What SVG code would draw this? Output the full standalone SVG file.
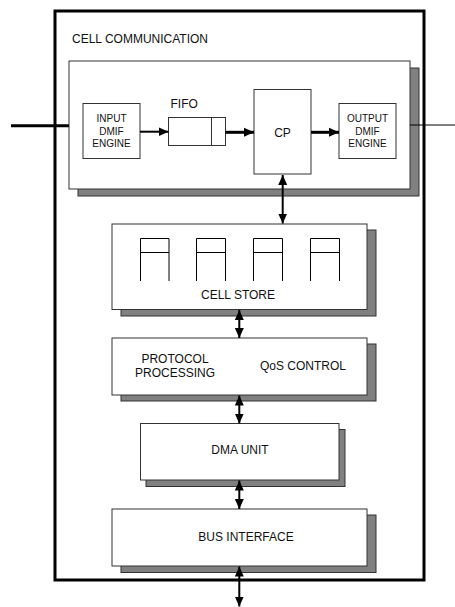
<svg xmlns="http://www.w3.org/2000/svg" width="455" height="607" viewBox="0 0 455 607">
<style>
.box{fill:#fff;stroke:#333;stroke-width:1}
.sh{fill:#808080;stroke:#333;stroke-width:1}
.t{font-family:"Liberation Sans",Arial,sans-serif;font-size:12px;fill:#111}
.s{font-family:"Liberation Sans",Arial,sans-serif;font-size:10px;fill:#111}
.ln{stroke:#000;fill:none}
</style>
<defs>
<marker id="ah" markerUnits="userSpaceOnUse" markerWidth="10" markerHeight="10" viewBox="0 0 10 10" refX="10" refY="5" orient="auto-start-reverse">
<path d="M0,0.5 L10,5 L0,9.5 Z" fill="#000"/>
</marker>
</defs>
<g id="outer">
<rect x="55" y="11" width="369" height="569" fill="#fff" stroke="#000" stroke-width="3"/>
</g>
<g id="cell-communication">
<rect class="sh" x="78" y="68" width="341" height="128"/>
<rect class="box" x="69" y="61" width="341" height="128"/>
<text class="t" x="72" y="43">CELL COMMUNICATION</text>
</g>
<g id="input-dmif">
<rect class="box" x="83" y="103.5" width="57" height="55"/>
<text class="s" x="111.5" y="122" text-anchor="middle">INPUT</text>
<text class="s" x="111.5" y="134.5" text-anchor="middle">DMIF</text>
<text class="s" x="111.5" y="147" text-anchor="middle">ENGINE</text>
</g>
<g id="fifo">
<rect class="box" x="168.5" y="117.5" width="57" height="28"/>
<line x1="211.5" y1="117.5" x2="211.5" y2="145.5" stroke="#333"/>
<text class="t" x="170.5" y="107.5">FIFO</text>
</g>
<g id="cp">
<rect class="box" x="254" y="89.5" width="57" height="84.5"/>
<text class="t" x="282.5" y="136.5" text-anchor="middle">CP</text>
</g>
<g id="output-dmif">
<rect class="box" x="339" y="103.5" width="57" height="55"/>
<text class="s" x="367.5" y="122" text-anchor="middle">OUTPUT</text>
<text class="s" x="367.5" y="134.5" text-anchor="middle">DMIF</text>
<text class="s" x="367.5" y="147" text-anchor="middle">ENGINE</text>
</g>
<g id="cell-store">
<rect class="sh" x="121" y="230" width="255" height="86"/>
<rect class="box" x="112" y="224" width="255" height="85.5"/>
<path class="ln" stroke="#333" d="M140.5,281 V238.5 H169 V281 M140.5,252.5 H169 M196.5,281 V238.5 H225.5 V281 M196.5,252.5 H225.5 M253.5,281 V238.5 H282.5 V281 M253.5,252.5 H282.5 M310.5,281 V238.5 H339.5 V281 M310.5,252.5 H339.5"/>
<text class="t" x="238" y="299" text-anchor="middle">CELL STORE</text>
</g>
<g id="protocol">
<rect class="sh" x="121" y="344" width="255" height="57"/>
<rect class="box" x="112" y="338" width="255" height="57"/>
<text class="t" x="175" y="362.5" text-anchor="middle">PROTOCOL</text>
<text class="t" x="175" y="376.5" text-anchor="middle">PROCESSING</text>
<text class="t" x="303" y="370" text-anchor="middle">QoS CONTROL</text>
</g>
<g id="dma">
<rect class="sh" x="146" y="429.5" width="199" height="57"/>
<rect class="box" x="140.5" y="423.5" width="198.5" height="56.5"/>
<text class="t" x="240" y="454" text-anchor="middle">DMA UNIT</text>
</g>
<g id="bus">
<rect class="sh" x="121" y="515" width="255" height="57.5"/>
<rect class="box" x="112" y="509" width="255" height="57"/>
<text class="t" x="246" y="541" text-anchor="middle">BUS INTERFACE</text>
</g>
<g id="connectors">
<line class="ln" x1="11" y1="125.7" x2="69" y2="125.7" stroke-width="3"/>
<line class="ln" x1="410" y1="125" x2="455" y2="125" stroke-width="1"/>
<line class="ln" x1="140" y1="131.7" x2="168.5" y2="131.7" stroke-width="2" marker-end="url(#ah)"/>
<line class="ln" x1="225.5" y1="132.3" x2="254" y2="132.3" stroke-width="3" marker-end="url(#ah)"/>
<line class="ln" x1="311" y1="132.3" x2="339" y2="132.3" stroke-width="3" marker-end="url(#ah)"/>
<line class="ln" x1="282.7" y1="175" x2="282.7" y2="223.5" stroke-width="2" marker-start="url(#ah)" marker-end="url(#ah)"/>
<line class="ln" x1="239.3" y1="310" x2="239.3" y2="338" stroke-width="2" marker-start="url(#ah)" marker-end="url(#ah)"/>
<line class="ln" x1="239.3" y1="395.5" x2="239.3" y2="423.5" stroke-width="2" marker-start="url(#ah)" marker-end="url(#ah)"/>
<line class="ln" x1="239.3" y1="480.5" x2="239.3" y2="509" stroke-width="2" marker-start="url(#ah)" marker-end="url(#ah)"/>
<line class="ln" x1="239.3" y1="566.5" x2="239.3" y2="606.5" stroke-width="2" marker-start="url(#ah)" marker-end="url(#ah)"/>
</g>
</svg>
